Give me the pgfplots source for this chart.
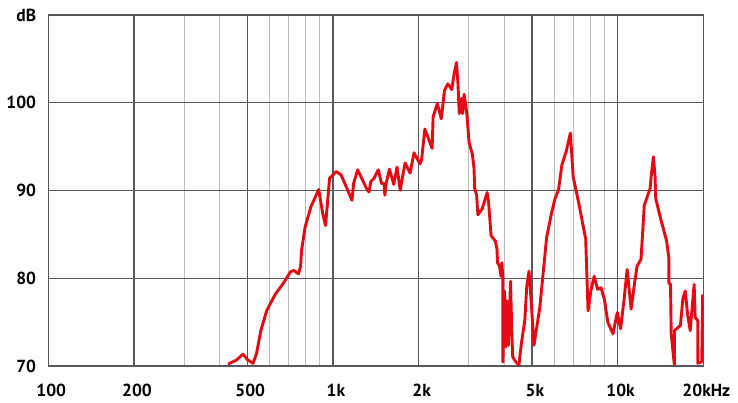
\documentclass[border=0pt]{standalone}
\usepackage{fontspec}
\setmainfont{PT Sans}
\usepackage{pgfplots}
\pgfplotsset{compat=1.18}
\definecolor{curve}{RGB}{227,10,20}
\definecolor{majgrid}{RGB}{88,88,88}
\definecolor{mingrid}{RGB}{188,188,188}
\begin{document}
\begin{tikzpicture}
\useasboundingbox (-48.3bp,-37bp) rectangle (689.7bp,366bp);
\begin{axis}[
 at={(0,0)}, anchor=south west,
 scale only axis, width=655bp, height=351bp,
 xmode=log, xmin=100, xmax=20000, ymin=70, ymax=110,
 xtick={100,200,500,1000,2000,5000,10000,20000},
 xticklabels={100,200,500,1k,2k,5k,10k,20kHz},
 minor xtick={300,400,600,700,800,900,3000,4000,6000,7000,8000,9000},
 ytick={70,80,90,100,110},
 yticklabels={70,80,90,100,dB},
 xmajorgrids, xminorgrids, ymajorgrids,
 major grid style={majgrid, line width=1.4bp},
 minor grid style={mingrid, line width=1bp},
 axis line style={majgrid, line width=1.4bp},
 major tick length=0pt, minor tick length=0pt,
 tick style={draw=none},
 ticklabel style={font=\fontsize{17.5}{17.5}\selectfont\bfseries},
 xticklabel style={anchor=base, inner sep=0pt, yshift=-30.5bp, xshift=3bp},
 yticklabel style={anchor=east, inner sep=0pt, xshift=-12bp},
]
\addplot[curve, line width=2.9bp, line join=round, no markers] coordinates {
(428,70.22) (458,70.67) (483,71.35) (500,70.75) (524,70.3) (539,71.43)
(558,74.04) (585,76.29) (627,78.17) (671,79.47) (709,80.73) (729,80.89)
(756,80.5) (770,81.38) (776,83.19) (798,85.8) (836,88.11) (891,90.12)
(921,87.35) (942,86.0) (973,91.4) (1027,92.16) (1068,91.78) (1127,90.03)
(1166,88.88) (1182,90.81) (1221,92.36) (1270,91.2) (1321,90.03) (1339,89.84)
(1357,91.0) (1394,91.4) (1443,92.36) (1481,90.81) (1510,90.81) (1522,89.46)
(1538,90.81) (1579,92.44) (1635,90.7) (1679,92.67) (1723,90.03) (1756,91.58)
(1793,93.14) (1866,91.98) (1927,94.3) (2021,93.02) (2048,93.52) (2103,97.01)
(2230,94.8) (2248,98.37) (2326,99.92) (2402,98.17) (2465,101.41) (2533,102.16)
(2615,101.49) (2663,103.28) (2717,104.59) (2749,102.16) (2778,98.76) (2831,100.48)
(2854,98.76) (2890,100.96) (2953,98.76) (3007,95.47) (3090,94.1) (3129,92.56)
(3147,90.23) (3197,89.46) (3230,87.23) (3345,87.92) (3480,89.77) (3525,88.5)
(3593,84.84) (3718,84.27) (3769,83.31) (3787,81.76) (3848,81.38) (3891,80.23)
(3922,81.76) (3953,80.03) (3955,70.45) (4003,78.54) (4048,72.17) (4080,77.42)
(4132,72.36) (4206,79.66) (4246,74.04) (4280,71.04) (4393,70.45) (4500,70.11)
(4597,72.7) (4719,75.17) (4795,79.1) (4884,80.81) (4969,77.42) (5083,72.36)
(5328,76.66) (5631,84.65) (5868,87.54) (6030,89.08) (6197,90.03) (6373,92.94)
(6603,94.49) (6825,96.55) (6979,91.58) (7309,88.5) (7725,84.46) (7873,76.29)
(8050,78.54) (8272,80.23) (8507,78.73) (8742,78.91) (8983,77.61) (9239,74.98)
(9629,73.67) (9976,76.1) (10242,74.24) (10523,77.42) (10803,81.0) (11153,76.48)
(11451,79.29) (11700,81.38) (12079,82.16) (12244,85.22) (12401,88.3) (13007,90.23)
(13153,91.98) (13364,93.84) (13536,91.58) (13612,89.08) (14165,86.77) (14858,84.27)
(15132,82.34) (15140,79.47) (15339,79.29) (15425,73.67) (15836,70.0) (15840,74.04)
(16612,74.61) (16973,77.79) (17287,78.54) (17607,75.92) (17990,74.04) (18573,79.29)
(18722,75.54) (19129,75.17) (19135,70.3) (19747,70.48) (19905,78.17)
};
\end{axis}
\end{tikzpicture}
\end{document}
